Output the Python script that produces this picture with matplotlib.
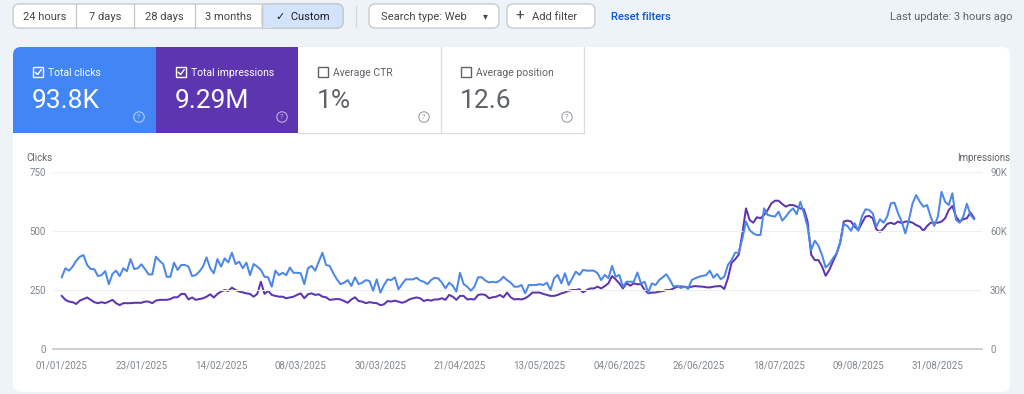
import numpy as np
import pandas as pd
import matplotlib
matplotlib.use("Agg")
import matplotlib.pyplot as plt
from matplotlib.patches import FancyBboxPatch, Rectangle, Circle

plt.rcParams['font.family'] = ['Roboto', 'DejaVu Sans']

# ---------------- data ----------------
start_date = "2025-01-01"

clicks = [
    304, 342, 332, 349, 374, 391, 398, 356, 339, 338,
    309, 313, 330, 275, 318, 332, 309, 342, 330, 381,
    339, 342, 359, 338, 316, 316, 391, 374, 360, 306,
    306, 366, 335, 356, 356, 349, 309, 313, 328, 349,
    388, 342, 321, 381, 349, 384, 367, 408, 360, 370,
    342, 366, 313, 360, 349, 335, 306, 304, 264, 332,
    313, 323, 313, 345, 323, 323, 321, 275, 342, 352,
    332, 370, 408, 356, 352, 321, 295, 275, 281, 292,
    267, 304, 275, 281, 292, 288, 247, 295, 239, 271,
    295, 292, 304, 253, 275, 295, 295, 295, 302, 290,
    285, 275, 292, 302, 299, 281, 257, 281, 268, 243,
    323, 275, 264, 247, 264, 304, 304, 290, 282, 285,
    282, 290, 306, 292, 281, 264,
    264, 271, 236, 271, 271, 271, 275, 271, 281, 250,
    300, 314, 278, 321, 271, 300, 328, 314, 335, 332,
    332, 332, 321, 292, 314, 300, 352, 306, 314, 264,
    285, 285, 285, 324, 278, 285, 239, 278, 271, 292,
    304, 317, 292, 264, 268,
    258, 265, 255, 292, 300, 306, 310, 313, 332, 302,
    318, 296, 306, 356, 377, 408, 408, 469, 540, 504,
    490, 483, 483, 596, 568, 564, 561, 582, 544, 561,
    582, 596, 571, 624, 575, 518, 419, 459, 438, 398,
    345, 360, 384, 405, 450, 530, 521, 501, 533, 501,
    561, 592, 589, 575, 518, 550, 535, 561, 617, 620,
    575, 540, 490, 547, 617, 652, 624, 603, 610, 561,
    521, 561, 666, 624, 610, 660, 547, 535, 561, 615,
    568, 550,
]

impressions_k = [
    27.0, 25.0, 24.1, 23.8, 22.9, 24.6, 25.4, 26.2, 25.0, 23.8,
    23.3, 23.8, 23.3, 24.1, 25.0, 23.3, 22.3, 23.3, 23.3, 23.3,
    23.5, 23.5, 23.5, 24.1, 24.1, 23.3, 24.6, 25.0, 25.0, 25.0,
    25.4, 26.3, 26.3, 28.0, 28.0, 25.2, 26.2, 25.0, 25.4, 25.8,
    26.6, 27.8, 26.2, 28.0, 29.2, 30.0, 29.5, 31.2, 30.0, 29.2,
    28.8, 28.3, 28.0, 26.6, 28.0, 34.2, 28.0, 29.6, 27.5, 27.0,
    26.6, 26.6, 25.8, 26.2, 26.6, 27.5, 28.3, 25.8, 27.8, 28.3,
    27.5, 27.8, 26.6, 26.3, 25.0, 25.2, 25.4, 25.2, 24.4, 23.5,
    25.2, 26.3, 24.4, 24.1, 23.3, 23.8, 23.5, 23.3, 22.3, 22.7,
    24.4, 24.1, 24.6, 24.1, 23.5, 24.1, 25.2, 25.8, 26.2, 25.8,
    24.4, 25.0, 24.6, 25.2, 25.2, 25.8, 25.0, 27.5, 26.6, 25.0,
    27.0, 27.0, 25.2, 25.4, 25.2, 27.5, 27.8, 27.5, 25.8, 26.3,
    26.6, 27.5, 26.3, 28.7, 26.3, 25.2,
    25.4, 25.2, 25.8, 27.0, 28.7, 28.7, 28.7, 28.0, 27.5, 27.0,
    27.0, 27.5, 28.3, 28.8, 29.6, 30.0, 30.0, 30.4, 28.8, 30.0,
    30.8, 30.8, 31.7, 30.8, 32.0, 33.4, 37.1, 35.4, 33.4, 30.8,
    33.4, 32.2, 33.4, 32.9, 33.0, 30.0, 28.3, 28.7, 28.7, 29.2,
    29.4, 30.0, 30.0, 30.8, 31.7,
    31.8, 31.6, 31.3, 31.7, 32.0, 31.8, 31.7, 31.4, 31.3, 31.7,
    31.9, 32.0, 30.5, 36.0, 43.8, 45.6, 48.0, 58.8, 71.5, 65.6,
    64.2, 67.0, 66.5, 68.2, 70.7, 74.0, 75.4, 75.4, 73.7, 72.4,
    73.2, 73.2, 72.4, 71.5, 71.0, 64.8, 48.0, 45.2, 45.2, 42.0,
    37.2, 40.2, 44.4, 48.4, 54.0, 64.8, 65.3, 64.8, 62.2, 60.5,
    64.0, 67.3, 67.7, 66.5, 60.8, 59.6, 61.3, 63.6, 64.2, 63.5,
    64.8, 64.0, 64.8, 64.8, 64.2, 63.0, 62.2, 60.1, 62.5, 64.2,
    64.2, 64.2, 64.8, 66.5, 70.7, 72.7, 67.3, 64.8, 66.0, 66.5,
    69.4, 66.6,
]

x_tick_labels = ["01/01/2025", "23/01/2025", "14/02/2025", "08/03/2025",
                 "30/03/2025", "21/04/2025", "13/05/2025", "04/06/2025",
                 "26/06/2025", "18/07/2025", "09/08/2025", "31/08/2025"]
clicks_ticks = [0, 250, 500, 750]
impr_ticks = [0, 30000, 60000, 90000]
impr_tick_labels = ["0", "30K", "60K", "90K"]

range_buttons = ["24 hours", "7 days", "28 days", "3 months", "\u2713  Custom"]
metric_names = ["Total clicks", "Total impressions", "Average CTR", "Average position"]
metric_values = ["93.8K", "9.29M", "1%", "12.6"]
metric_checked = [True, True, False, False]

# ---------------- figure ----------------
W, H = 1024, 394
fig = plt.figure(figsize=(W / 100, H / 100), dpi=100)
fig.patch.set_facecolor("#eef2f9")

bg = fig.add_axes([0, 0, 1, 1])
bg.set_xlim(0, W)
bg.set_ylim(H, 0)
bg.axis("off")
bg.set_zorder(0)

GRAY_TXT = "#444746"
BORDER = "#c4c7c5"

# ---- top bar ----
bg.add_patch(FancyBboxPatch((13, 4), 330, 24, boxstyle="round,pad=0,rounding_size=6",
                            fc="white", ec=BORDER, lw=0.9))
bg.add_patch(FancyBboxPatch((262, 4), 81, 24, boxstyle="round,pad=0,rounding_size=6",
                            fc="#d3e3fd", ec=BORDER, lw=0.9))
bg.add_patch(Rectangle((262.5, 4.5), 10, 23, fc="#d3e3fd", ec="none"))
seps = [76, 134, 195, 262]
for s in seps:
    bg.plot([s, s], [4, 28], color=BORDER, lw=0.9)
centers = [44.5, 105, 164.5, 228.5, 302.5]
for lab, cx in zip(range_buttons, centers):
    bg.text(cx, 16.5, lab, ha="center", va="center", fontsize=8,
            color="#1f1f1f" if "Custom" in lab else GRAY_TXT)

bg.plot([356, 356], [6, 27], color="#d5d8dc", lw=0.9)

bg.add_patch(FancyBboxPatch((369, 4), 130, 24, boxstyle="round,pad=0,rounding_size=6",
                            fc="white", ec=BORDER, lw=0.9))
bg.text(381, 16.5, "Search type: Web", ha="left", va="center", fontsize=8, color=GRAY_TXT)
bg.text(485, 16.5, "\u25BE", ha="center", va="center", fontsize=7, color=GRAY_TXT,
        family=["DejaVu Sans"])

bg.add_patch(FancyBboxPatch((507, 4), 88, 24, boxstyle="round,pad=0,rounding_size=6",
                            fc="white", ec=BORDER, lw=0.9))
bg.text(520, 16, "+", ha="center", va="center", fontsize=11, color=GRAY_TXT)
bg.text(532, 16.5, "Add filter", ha="left", va="center", fontsize=8, color=GRAY_TXT)

bg.text(611, 16.5, "Reset filters", ha="left", va="center", fontsize=8, color="#0b57d0",
        fontweight="medium")
bg.text(1012, 16.5, "Last update: 3 hours ago", ha="right", va="center", fontsize=8,
        color="#5f6368")

# ---- card ----
bg.add_patch(FancyBboxPatch((13, 47), 997, 345, boxstyle="round,pad=0,rounding_size=8",
                            fc="white", ec="none"))

# ---- metric tiles ----
tile_x = [13, 156, 298, 441]
tile_colors = ["#4285f4", "#5e35b1", "white", "white"]
bg.add_patch(FancyBboxPatch((13, 47), 143, 86, boxstyle="round,pad=0,rounding_size=8",
                            fc=tile_colors[0], ec="none"))
bg.add_patch(Rectangle((30, 47), 126, 86, fc=tile_colors[0], ec="none"))
bg.add_patch(Rectangle((13, 70), 143, 63, fc=tile_colors[0], ec="none"))
bg.add_patch(Rectangle((156, 47), 142, 86, fc=tile_colors[1], ec="none"))
bg.plot([298, 584], [133, 133], color="#dadce0", lw=0.9)
bg.plot([441, 441], [47, 133], color="#dadce0", lw=0.9)
bg.plot([584, 584], [47, 133], color="#dadce0", lw=0.9)

for i in range(4):
    x0 = tile_x[i]
    dark = i < 2
    fg = "white" if dark else "#5f6368"
    bg.add_patch(Rectangle((x0 + 20, 67), 10, 10, fc="none", ec=fg, lw=1.0))
    if metric_checked[i]:
        bg.plot([x0 + 22.2, x0 + 24.6, x0 + 28.2], [72.2, 74.6, 69.6], color=fg, lw=1.0,
                solid_capstyle="round")
    bg.text(x0 + 35, 72.5, metric_names[i], ha="left", va="center", fontsize=7.5,
            color=fg)
    bg.text(x0 + 19, 101, metric_values[i], ha="left", va="center", fontsize=19,
            color=fg, fontweight="normal")
    icol = (1, 1, 1, 0.6) if dark else "#9aa0a6"
    bg.add_patch(Circle((x0 + 126, 117), 5.2, fc="none", ec=icol, lw=0.8))
    bg.text(x0 + 126, 117.3, "?", ha="center", va="center", fontsize=5.5, color=icol)

bg.text(26, 158, "Clicks", ha="left", va="center", fontsize=7, color="#5f6368")
bg.text(1010, 158, "Impressions", ha="right", va="center", fontsize=7, color="#5f6368")

# ---------------- chart ----------------
dates = pd.date_range(start_date, periods=len(clicks), freq="D")
impressions = np.array(impressions_k) * 1000.0

ax_left, ax_right = 52.7, 981.7
ax_top, ax_bot = 172.0, 349.0
ax = fig.add_axes([ax_left / W, (H - ax_bot) / H, (ax_right - ax_left) / W,
                   (ax_bot - ax_top) / H])
ax2 = ax.twinx()

ax2.plot(dates, impressions, color="#5e35b1", lw=1.45, solid_joinstyle="round")
ax.plot(dates, clicks, color="#4d88e6", lw=1.45, solid_joinstyle="round")
ax.set_zorder(ax2.get_zorder() + 1)
ax.patch.set_visible(False)
ax2.patch.set_visible(False)

ax.set_xlim(dates[0] - pd.Timedelta(days=2.5), dates[-1] + pd.Timedelta(days=2.1))
ax.set_ylim(0, 750)
ax2.set_ylim(0, 90000)

tick_dates = pd.to_datetime(x_tick_labels, format="%d/%m/%Y")
ax.set_xticks(tick_dates)
ax.set_xticklabels(x_tick_labels)
ax.set_yticks(clicks_ticks)
ax.set_yticklabels([str(v) for v in clicks_ticks])
ax2.set_yticks(impr_ticks)
ax2.set_yticklabels(impr_tick_labels)

for a in (ax, ax2):
    for sp in a.spines.values():
        sp.set_visible(False)
    a.tick_params(length=0, labelsize=7, labelcolor="#80868b")
ax.tick_params(axis="x", pad=8.5)
ax.tick_params(axis="y", pad=5)
ax2.tick_params(axis="y", pad=6)

ax.grid(axis="y", color="#eeeeee", lw=0.8)
ax.grid(axis="x", visible=False)
ax.spines["bottom"].set_visible(True)
ax.spines["bottom"].set_color("#c6c6c6")
ax.spines["bottom"].set_linewidth(1.2)

fig.savefig("out.png", dpi=100, facecolor=fig.get_facecolor())
